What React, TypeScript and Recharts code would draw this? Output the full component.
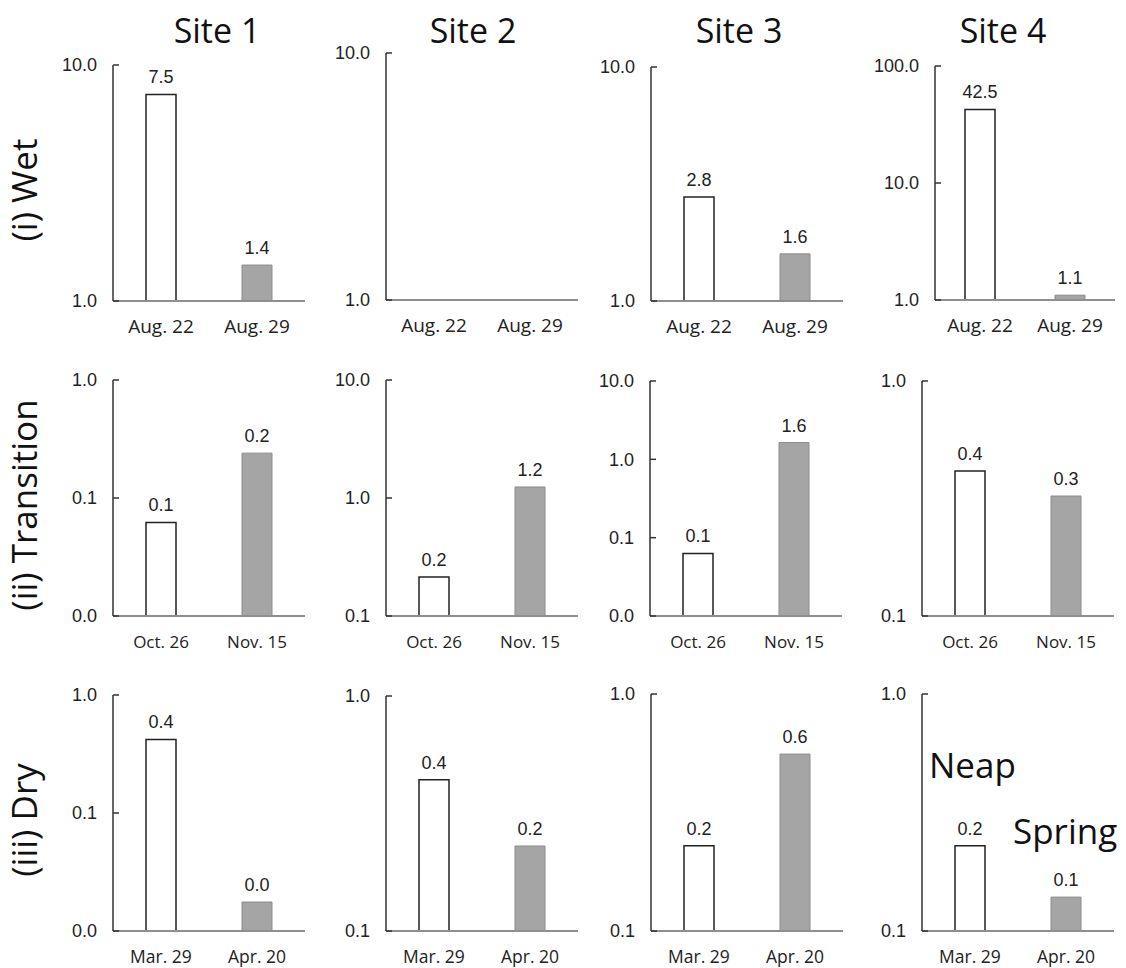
import React from "react";
import { Bar, BarChart, Cell, LabelList, XAxis, YAxis } from "recharts";

const sites = ["Site 1", "Site 2", "Site 3", "Site 4"];
const seasons = ["(i) Wet", "(ii) Transition", "(iii) Dry"];

const wetDates = ["Aug. 22", "Aug. 29"];
const transitionDates = ["Oct. 26", "Nov. 15"];
const dryDates = ["Mar. 29", "Apr. 20"];

// per site, neap (white) then spring (grey); null = no bar
const wetNeap = [7.5, null, 2.78, 42.5];
const wetSpring = [1.42, null, 1.59, 1.1];
const transitionNeap = [0.062, 0.214, 0.063, 0.414];
const transitionSpring = [0.24, 1.24, 1.64, 0.324];
const dryNeap = [0.42, 0.44, 0.229, 0.229];
const drySpring = [0.0176, 0.23, 0.558, 0.139];

const wetTicks = [[1, 10], [1, 10], [1, 10], [1, 10, 100]];
const transitionTicks = [[0.01, 0.1, 1], [0.1, 1, 10], [0.01, 0.1, 1, 10], [0.1, 1]];
const dryTicks = [[0.01, 0.1, 1], [0.1, 1], [0.1, 1], [0.1, 1]];

const rowDates = [wetDates, transitionDates, dryDates];
const rowNeap = [wetNeap, transitionNeap, dryNeap];
const rowSpring = [wetSpring, transitionSpring, drySpring];
const rowTicks = [wetTicks, transitionTicks, dryTicks];

const axisLeft = [
  [113, 386, 651, 935],
  [113, 386, 650, 922],
  [113, 386, 651, 922],
];
const plotTop = [
  [65, 53, 67, 66],
  [380, 380, 381, 381],
  [695, 696, 694, 694],
];
const plotBottom = [
  [301, 300, 301, 300],
  [616, 616, 616, 616],
  [931, 931, 931, 931],
];
const plotWidth = [
  [192, 192, 192, 180],
  [192, 192, 192, 192],
  [192, 192, 192, 192],
];
const xFont = [19, 17, 17.5];
const titleX = [217, 473, 739, 1003];
const seasonY = [190, 505, 820];

const NUM_FONT = "'Liberation Sans', Arial, sans-serif";
const TEXT_FONT = "'Open Sans', 'Noto Sans', sans-serif";

function YTick(props: any) {
  const { x, y, payload } = props;
  return (
    <g>
      <line x1={x} x2={x + 6} y1={y} y2={y} stroke="#333" strokeWidth={1.5} />
      <text x={x - 16} y={y} dy="0.36em" textAnchor="end" fontSize={18} fontFamily={NUM_FONT} fill="#222">
        {Number(payload.value).toFixed(1)}
      </text>
    </g>
  );
}

function XTick(props: any) {
  const { x, y, payload, fontSize } = props;
  return (
    <text x={x} y={y + 32} textAnchor="middle" fontSize={fontSize} fontFamily={TEXT_FONT} fill="#222">
      {payload.value}
    </text>
  );
}

function ValueLabel(props: any) {
  const { x, y, width, value } = props;
  if (value == null) return null;
  return (
    <text x={x + width / 2} y={y - 11} textAnchor="middle" fontSize={18} fontFamily={NUM_FONT} fill="#222">
      {Number(value).toFixed(1)}
    </text>
  );
}

function Panel({ r, c }: { r: number; c: number }) {
  const data = [
    { date: rowDates[r][0], v: rowNeap[r][c] },
    { date: rowDates[r][1], v: rowSpring[r][c] },
  ];
  const ticks = rowTicks[r][c];
  const YW = 60;
  const MT = 30;
  const MR = 4;
  const XH = 44;
  const h = plotBottom[r][c] - plotTop[r][c];
  const w = plotWidth[r][c];
  return (
    <div style={{ position: "absolute", left: axisLeft[r][c] - YW, top: plotTop[r][c] - MT }}>
      <BarChart
        width={YW + w + MR}
        height={MT + h + XH}
        data={data}
        margin={{ top: MT, right: MR, left: 0, bottom: 0 }}
      >
        <XAxis
          dataKey="date"
          height={XH}
          interval={0}
          tickSize={0}
          tickMargin={0}
          tickLine={false}
          axisLine={{ stroke: "#8f8f8f", strokeWidth: 2 }}
          tick={<XTick fontSize={xFont[r]} />}
        />
        <YAxis
          scale="log"
          type="number"
          domain={[ticks[0], ticks[ticks.length - 1]]}
          allowDataOverflow
          ticks={ticks}
          width={YW}
          tickSize={0}
          tickMargin={0}
          tickLine={false}
          axisLine={{ stroke: "#333", strokeWidth: 1.5 }}
          tick={<YTick />}
        />
        <Bar dataKey="v" barSize={30} isAnimationActive={false}>
          <Cell fill="#ffffff" stroke="#222" strokeWidth={1.5} />
          <Cell fill="#a5a5a5" stroke="#8c8c8c" strokeWidth={1} />
          <LabelList dataKey="v" content={<ValueLabel />} />
        </Bar>
      </BarChart>
    </div>
  );
}

export default function App() {
  return (
    <div style={{ position: "absolute", left: 0, top: 0, width: 1126, height: 968, background: "#fff" }}>
      {seasons.map((_, r) => sites.map((__, c) => <Panel key={`${r}-${c}`} r={r} c={c} />))}
      <svg width={1126} height={968} style={{ position: "absolute", left: 0, top: 0, pointerEvents: "none" }}>
        {sites.map((s, i) => (
          <text key={s} x={titleX[i]} y={43} textAnchor="middle" fontSize={34} fontFamily={TEXT_FONT} fill="#111">
            {s}
          </text>
        ))}
        {seasons.map((s, i) => (
          <text
            key={s}
            transform={`translate(37, ${seasonY[i]}) rotate(-90)`}
            textAnchor="middle"
            fontSize={35}
            fontFamily={TEXT_FONT}
            fill="#111"
          >
            {s}
          </text>
        ))}
        <text x={929} y={778} fontSize={35} fontFamily={TEXT_FONT} fill="#111">Neap</text>
        <text x={1013} y={844} fontSize={35} fontFamily={TEXT_FONT} fill="#111">Spring</text>
      </svg>
    </div>
  );
}
